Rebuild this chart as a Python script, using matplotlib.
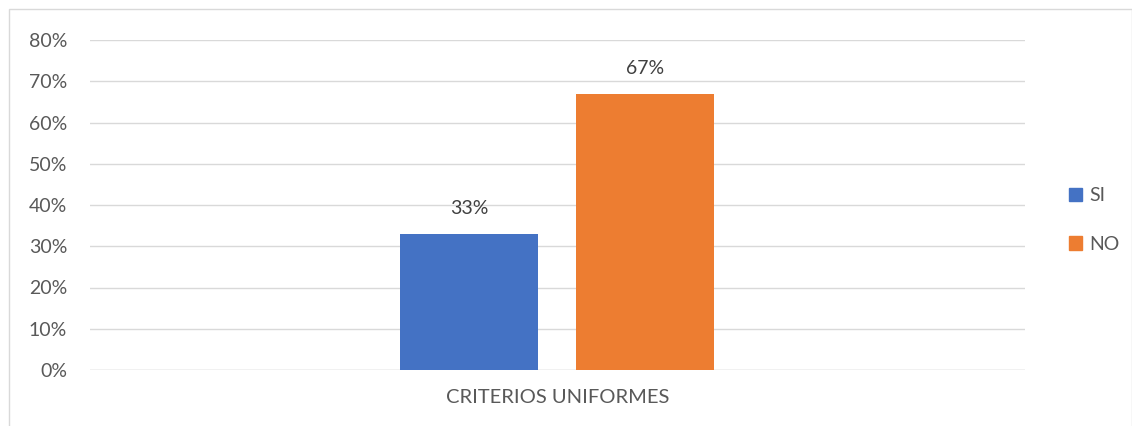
import matplotlib
matplotlib.use("Agg")
import matplotlib.pyplot as plt
from matplotlib.patches import Rectangle

categories = ["CRITERIOS UNIFORMES"]
series_names = ["SI", "NO"]
series_values = [[0.33], [0.67]]
series_colors = ["#4472C4", "#ED7D31"]
yticks = [0, 0.1, 0.2, 0.3, 0.4, 0.5, 0.6, 0.7, 0.8]
ytick_labels = ["0%", "10%", "20%", "30%", "40%", "50%", "60%", "70%", "80%"]

plt.rcParams['font.family'] = ['Lato', 'DejaVu Sans']
W, H = 1132, 426
fig = plt.figure(figsize=(W/100, H/100), dpi=100)
ax = fig.add_axes([90/W, 1-370/H, (1025-90)/W, (370-40)/H])

text_col = "#595959"
fs = 14
bw = 0.1476
offsets = [-0.0945, 0.0935]
for name, vals, col, off in zip(series_names, series_values, series_colors, offsets):
    for i, v in enumerate(vals):
        ax.bar(i + off, v, width=bw, color=col, zorder=3)
        ax.text(i + off, v + 0.04, f"{round(v*100)}%", ha="center", va="bottom",
                fontsize=fs, color="#404040")

ax.set_xlim(-0.5, 0.5)
ax.set_ylim(0, 0.8)
ax.set_yticks(yticks)
ax.set_yticklabels(ytick_labels, fontsize=fs, color=text_col)
ax.set_xticks(range(len(categories)))
ax.set_xticklabels(categories, fontsize=14.5, color=text_col)
ax.tick_params(axis="both", length=0)
ax.tick_params(axis="y", pad=16.5)
ax.tick_params(axis="x", pad=14)
ax.grid(axis="y", color="#D9D9D9", linewidth=1, zorder=0)
for s in ax.spines.values():
    s.set_visible(False)
ax.axhline(0, color="#D9D9D9", linewidth=1, zorder=2)

handles = [Rectangle((0, 0), 1, 1, color=c) for c in series_colors]
leg = fig.legend(handles, series_names, loc="center left", bbox_to_anchor=(1051/W, 1-220/H),
                 frameon=False, fontsize=fs, handlelength=0.7, handleheight=0.7,
                 handletextpad=0.35, labelspacing=1.6, labelcolor=text_col)

fig.patches.append(Rectangle((8.5/W, -0.1), (W-9)/W, (H-9)/H + 0.1, transform=fig.transFigure,
                             fill=False, edgecolor="#D9D9D9", linewidth=1))

fig.savefig("out.png", dpi=100)
